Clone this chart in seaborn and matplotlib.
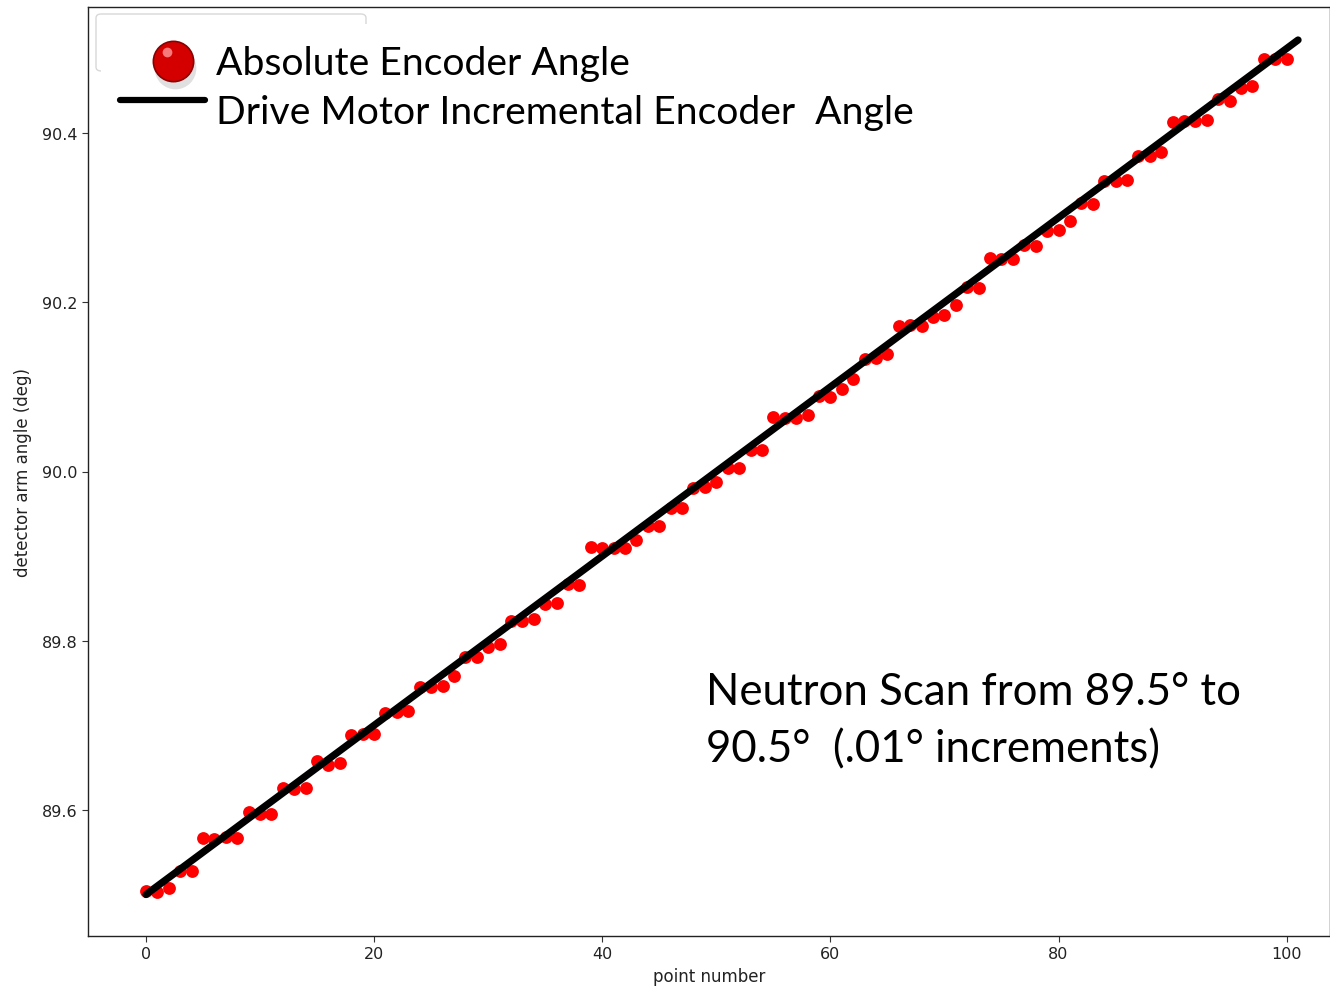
import matplotlib
matplotlib.use("Agg")
import matplotlib.pyplot as plt
import seaborn as sns
import pandas as pd
from matplotlib.patches import FancyBboxPatch, Rectangle

# ---------------- data ----------------
point_number = list(range(0, 101))
absolute_angle = [
    89.504, 89.503, 89.508, 89.528, 89.528, 89.567, 89.566, 89.568, 89.567, 89.598,
    89.595, 89.595, 89.626, 89.625, 89.626, 89.658, 89.653, 89.656, 89.689, 89.690,
    89.690, 89.715, 89.716, 89.717, 89.745, 89.745, 89.746, 89.758, 89.781, 89.781,
    89.793, 89.796, 89.823, 89.823, 89.826, 89.843, 89.844, 89.867, 89.866, 89.911,
    89.910, 89.910, 89.910, 89.919, 89.936, 89.936, 89.957, 89.957, 89.981, 89.982,
    89.988, 90.004, 90.004, 90.025, 90.025, 90.064, 90.063, 90.063, 90.067, 90.089,
    90.088, 90.098, 90.109, 90.133, 90.134, 90.139, 90.172, 90.173, 90.172, 90.183,
    90.185, 90.197, 90.218, 90.217, 90.252, 90.251, 90.251, 90.268, 90.266, 90.284,
    90.285, 90.296, 90.317, 90.316, 90.343, 90.343, 90.345, 90.373, 90.373, 90.378,
    90.413, 90.414, 90.414, 90.415, 90.440, 90.438, 90.453, 90.456, 90.487, 90.487,
    90.487,
]
motor_x = [0, 101]
motor_angle = [89.50, 90.51]

legend_labels = ["Absolute Encoder Angle", "Drive Motor Incremental Encoder  Angle"]
note_lines = ["Neutron Scan from 89.5\u00b0 to", "90.5\u00b0  (.01\u00b0 increments)"]
x_ticks = [0, 20, 40, 60, 80, 100]
y_ticks = [89.6, 89.8, 90.0, 90.2, 90.4]

df_abs = pd.DataFrame({"point": point_number, "angle": absolute_angle})
df_motor = pd.DataFrame({"point": motor_x, "angle": motor_angle})

# ---------------- figure ----------------
sns.set_style("ticks")
plt.rcParams["font.family"] = ["DejaVu Sans"]

W, H = 1330, 987
fig = plt.figure(figsize=(W / 100, H / 100), dpi=100)
ax = fig.add_axes([88 / W, 50 / H, (W - 88) / W, 929 / H])

sns.scatterplot(data=df_abs, x="point", y="angle", ax=ax, color="#ff0000",
                s=85, linewidth=0, zorder=2, legend=False)
sns.lineplot(data=df_motor, x="point", y="angle", ax=ax, color="black",
             linewidth=5.2, zorder=3, legend=False)

ax.set_xlim(-5.08, 103.8)
ax.set_ylim(89.451, 90.549)
ax.set_xticks(x_ticks)
ax.set_yticks(y_ticks)
ax.set_xticklabels([str(v) for v in x_ticks])
ax.set_yticklabels([f"{v:.1f}" for v in y_ticks])
ax.tick_params(labelsize=11.5, length=4, width=0.8, color="#333333", labelcolor="#222222")
ax.set_xlabel("point number", fontsize=12, color="#222222", labelpad=4)
ax.set_ylabel("detector arm angle (deg)", fontsize=12, color="#222222", labelpad=7)
for sp in ax.spines.values():
    sp.set_linewidth(1.0)
    sp.set_color("#222222")

def fx(px):
    return px / W

def fy(py):
    return 1 - py / H

# remnant of the original legend box
fig.patches.append(FancyBboxPatch((fx(96), fy(72)), fx(366) - fx(96), fy(15) - fy(72),
                                  boxstyle="round,pad=0,rounding_size=0.004",
                                  transform=fig.transFigure, facecolor="white",
                                  edgecolor="#d8d8d8", linewidth=1.0, zorder=5))
fig.patches.append(Rectangle((fx(101), fy(135)), fx(380) - fx(101), fy(25) - fy(135),
                             transform=fig.transFigure, facecolor="white",
                             edgecolor="none", zorder=6))

# overlay legend entries
big_font = ["Lato", "DejaVu Sans"]
legend_size = 28.2
note_size = 31.5
# shadow + glossy ball
fig.add_artist(plt.Line2D([fx(175)], [fy(69)], marker="o", markersize=30,
                          markerfacecolor="#cccccc", markeredgecolor="none",
                          alpha=0.6, transform=fig.transFigure, zorder=7))
fig.add_artist(plt.Line2D([fx(173)], [fy(62)], marker="o", markersize=29,
                          markerfacecolor="#d40000", markeredgecolor="#8a0000",
                          markeredgewidth=1.2, transform=fig.transFigure, zorder=8))
fig.add_artist(plt.Line2D([fx(167)], [fy(53)], marker="o", markersize=7,
                          markerfacecolor="#ff9a9a", markeredgecolor="none",
                          alpha=0.8, transform=fig.transFigure, zorder=9))
fig.add_artist(plt.Line2D([fx(120), fx(205)], [fy(101), fy(101)], color="black",
                          linewidth=4.5, transform=fig.transFigure, zorder=8))
fig.text(fx(216), fy(75), legend_labels[0], family=big_font, fontsize=legend_size,
         va="baseline", ha="left", color="black", zorder=10)
fig.text(fx(216), fy(124), legend_labels[1], family=big_font, fontsize=legend_size,
         va="baseline", ha="left", color="black", zorder=10)

# annotation
fig.text(fx(706), fy(705), note_lines[0], family=big_font, fontsize=note_size,
         va="baseline", ha="left", color="black", zorder=10)
fig.text(fx(706), fy(762), note_lines[1], family=big_font, fontsize=note_size,
         va="baseline", ha="left", color="black", zorder=10)

fig.savefig("out.png", dpi=100)
